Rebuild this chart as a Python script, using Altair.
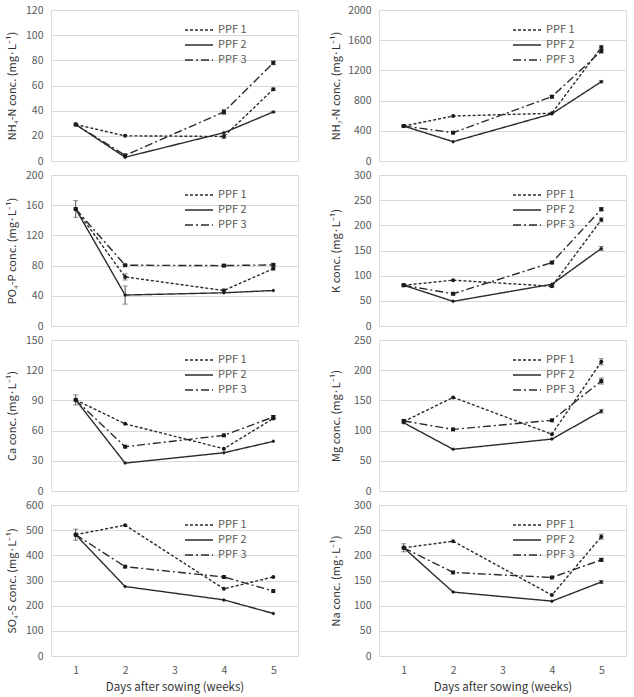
import altair as alt
import pandas as pd

weeks = [1, 2, 4, 5]
series_names = ["PPF 1", "PPF 2", "PPF 3"]
series_shapes = ["circle", "diamond", "square"]
x_tick_values = [1, 2, 3, 4, 5]

# NH4-N
nh4_ppf1 = [29, 20, 19.5, 57]
nh4_ppf2 = [29, 3, 22.5, 39]
nh4_ppf3 = [29, 4.5, 39, 78]
nh4_err1 = [0, 0, 1.5, 1]
nh4_err2 = [0, 0, 0, 0.5]
nh4_err3 = [0, 0, 2, 1.5]

# NH3-N
nh3_ppf1 = [463, 596, 632, 1506]
nh3_ppf2 = [463, 256, 625, 1050]
nh3_ppf3 = [463, 375, 852, 1455]
nh3_err1 = [10, 0, 0, 25]
nh3_err2 = [0, 0, 0, 15]
nh3_err3 = [0, 0, 15, 25]

# PO4-P
po4_ppf1 = [155, 65, 47, 76]
po4_ppf2 = [155, 41, 44, 47]
po4_ppf3 = [155, 80.5, 80, 81]
po4_err1 = [11, 4, 2, 2]
po4_err2 = [0, 12, 0, 0]
po4_err3 = [0, 1, 1, 1]

# K
k_ppf1 = [81, 91, 79, 211]
k_ppf2 = [81, 49, 83, 154]
k_ppf3 = [81, 64, 126, 232]
k_err1 = [2, 0, 2, 4]
k_err2 = [0, 0, 0, 4]
k_err3 = [0, 2, 2, 3]

# Ca
ca_ppf1 = [90.5, 66.7, 42, 72]
ca_ppf2 = [90.5, 27.7, 38, 49.3]
ca_ppf3 = [90.5, 44, 55.3, 73.5]
ca_err1 = [5, 0, 0, 1]
ca_err2 = [0, 0, 0, 0]
ca_err3 = [0, 0, 0, 1.5]

# Mg
mg_ppf1 = [115, 155, 94, 214]
mg_ppf2 = [113, 69, 86, 132]
mg_ppf3 = [116, 102, 117, 182]
mg_err1 = [3, 0, 0, 5]
mg_err2 = [0, 0, 0, 3]
mg_err3 = [0, 0, 0, 5]

# SO4-S
so4_ppf1 = [482, 520, 267, 314]
so4_ppf2 = [482, 276, 223, 169]
so4_ppf3 = [482, 355, 314, 258]
so4_err1 = [22, 0, 0, 0]
so4_err2 = [0, 0, 0, 0]
so4_err3 = [0, 0, 0, 0]

# Na
na_ppf1 = [215, 228, 121, 237]
na_ppf2 = [215, 127, 109, 147]
na_ppf3 = [215, 166, 156, 191]
na_err1 = [8, 0, 0, 5]
na_err2 = [0, 0, 0, 3]
na_err3 = [0, 0, 0, 3]

panels = [
    ("NH₄-N conc. (mg·L⁻¹)", [nh4_ppf1, nh4_ppf2, nh4_ppf3], [nh4_err1, nh4_err2, nh4_err3], 120, 20),
    ("NH₃-N conc. (mg·L⁻¹)", [nh3_ppf1, nh3_ppf2, nh3_ppf3], [nh3_err1, nh3_err2, nh3_err3], 2000, 400),
    ("PO₄-P conc. (mg·L⁻¹)", [po4_ppf1, po4_ppf2, po4_ppf3], [po4_err1, po4_err2, po4_err3], 200, 40),
    ("K conc. (mg·L⁻¹)", [k_ppf1, k_ppf2, k_ppf3], [k_err1, k_err2, k_err3], 300, 50),
    ("Ca conc. (mg·L⁻¹)", [ca_ppf1, ca_ppf2, ca_ppf3], [ca_err1, ca_err2, ca_err3], 150, 30),
    ("Mg conc. (mg·L⁻¹)", [mg_ppf1, mg_ppf2, mg_ppf3], [mg_err1, mg_err2, mg_err3], 250, 50),
    ("SO₄-S conc. (mg·L⁻¹)", [so4_ppf1, so4_ppf2, so4_ppf3], [so4_err1, so4_err2, so4_err3], 600, 100),
    ("Na conc. (mg·L⁻¹)", [na_ppf1, na_ppf2, na_ppf3], [na_err1, na_err2, na_err3], 300, 50),
]

FONT = "Noto Sans CJK KR"
LINE_COLOR = "#2b2b2b"
dash_scale = alt.Scale(domain=series_names, range=[[3, 2], [1, 0], [8, 3, 2, 3]])


def make_panel(idx, title, vals, errs, ymax, step):
    rows = []
    for s, v, e in zip(series_names, vals, errs):
        for w, val, er in zip(weeks, v, e):
            rows.append({"week": w, "value": val, "err": er, "series": s,
                         "lo": val - er, "hi": val + er})
    df = pd.DataFrame(rows)
    bottom = idx >= 6
    right = idx % 2 == 1
    if bottom:
        xaxis = alt.Axis(values=x_tick_values, tickCount=10, format="d", ticks=False, domain=False,
                         grid=False, labelPadding=9, title="Days after sowing (weeks)", titlePadding=6,
                         labelFontSize=10.5, titleFontSize=11.5, titleFontWeight="normal",
                         labelColor="#595959", titleColor="#333333", labelFont=FONT, titleFont=FONT)
    else:
        xaxis = None
    xs = alt.Scale(domain=[0.5, 5.5], nice=False, zero=False)
    ys = alt.Scale(domain=[0, ymax], nice=False)
    ext = 33 if right else 29
    yaxis = alt.Axis(values=list(range(0, ymax + 1, step)), tickCount=20, format="d",
                     labelOverlap=False, title=title, ticks=False, domain=False,
                     gridColor="#d9d9d9", gridWidth=1, labelPadding=8, titlePadding=5,
                     minExtent=ext, maxExtent=ext, labelFontSize=10.5, titleFontSize=11,
                     titleFontWeight="normal", labelColor="#595959", titleColor="#333333",
                     labelFont=FONT, titleFont=FONT)
    base = alt.Chart(df)
    x = alt.X("week:Q", scale=xs, axis=xaxis)
    y = alt.Y("value:Q", scale=ys, axis=yaxis)
    legend = alt.Legend(orient="none", legendX=140, legendY=12, title=None,
                        symbolType="M-2,0L2,0", symbolSize=196, symbolStrokeColor=LINE_COLOR,
                        symbolStrokeWidth=1.4, labelOffset=11, labelFontSize=11,
                        labelColor="#595959", labelFont=FONT, rowPadding=2, padding=0)
    lines = base.mark_line(color=LINE_COLOR, strokeWidth=1.4).encode(
        x=x, y=y,
        strokeDash=alt.StrokeDash("series:N", scale=dash_scale, legend=legend),
    )
    errdf = base.transform_filter("datum.err > 0")
    erule = errdf.mark_rule(color="#555555", strokeWidth=1).encode(
        x=alt.X("week:Q", scale=xs), y=alt.Y("lo:Q", scale=ys), y2="hi:Q")
    etop = errdf.mark_tick(color="#555555", orient="horizontal", size=5, thickness=1).encode(
        x=alt.X("week:Q", scale=xs), y=alt.Y("hi:Q", scale=ys))
    ebot = errdf.mark_tick(color="#555555", orient="horizontal", size=5, thickness=1).encode(
        x=alt.X("week:Q", scale=xs), y=alt.Y("lo:Q", scale=ys))
    layers = [lines, erule, etop, ebot]
    for s, shp in zip(series_names, series_shapes):
        layers.append(
            base.transform_filter(alt.datum.series == s)
            .mark_point(filled=True, color="#1a1a1a", size=16, opacity=1, shape=shp)
            .encode(x=alt.X("week:Q", scale=xs), y=alt.Y("value:Q", scale=ys))
        )
    return alt.layer(*layers).properties(width=247, height=151)


charts = [make_panel(i, *p) for i, p in enumerate(panels)]

chart = alt.concat(*charts, columns=2, spacing={"row": 14, "column": 81}, bounds="flush").resolve_legend(
    strokeDash="independent").resolve_scale(strokeDash="independent").properties(
    padding={"left": 5, "top": 4, "right": 4, "bottom": 4}
).configure_view(stroke="#8c8c8c", strokeWidth=1).configure(background="white")

chart.save("out.html", embed_options={"renderer": "svg", "actions": False})
